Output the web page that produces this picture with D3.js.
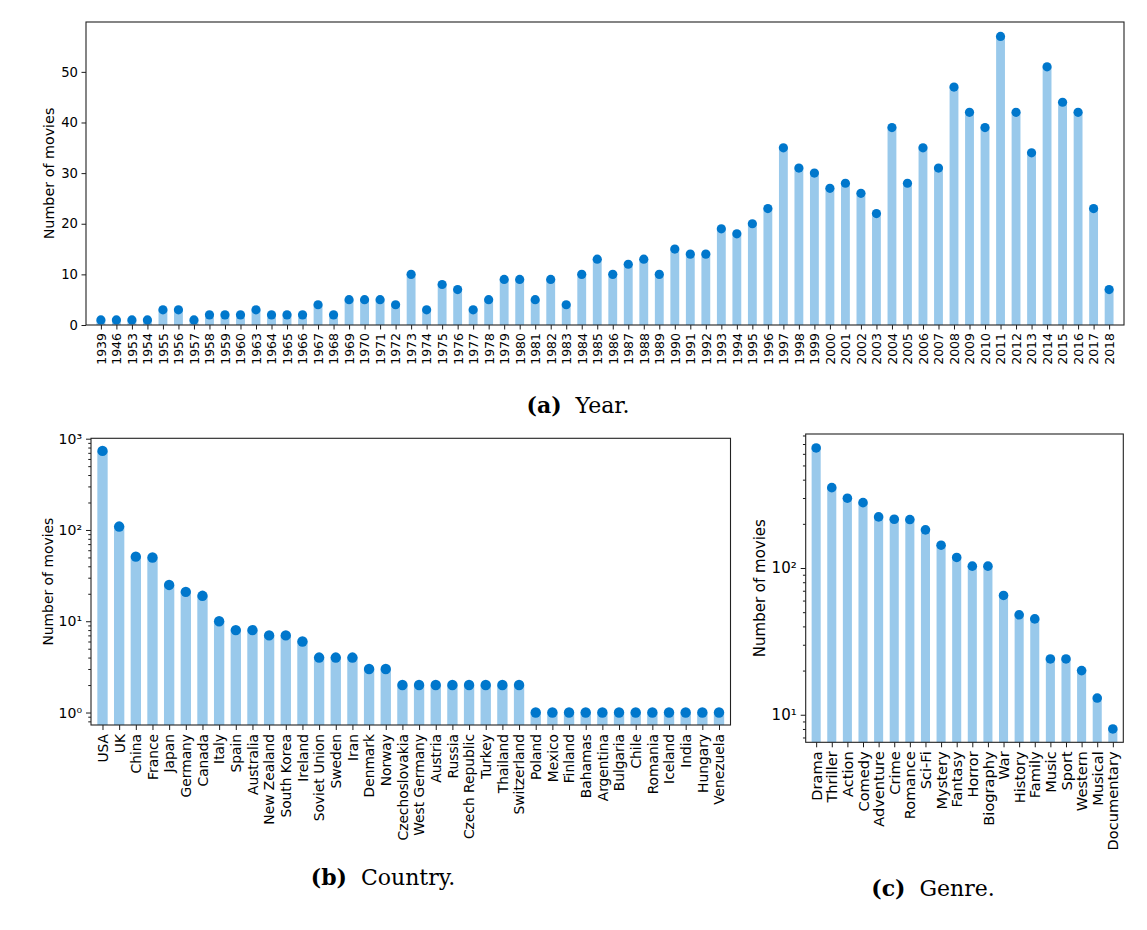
<!DOCTYPE html>
<html>
<head>
<meta charset="utf-8">
<title>Number of movies by year, country and genre</title>
<script src="https://d3js.org/d3.v7.min.js"></script>
<style>
  body { margin: 0; background: #fff; }
</style>
</head>
<body>
<div id="chart"></div>
<script>
// data
const years = ["1939","1946","1953","1954","1955","1956","1957","1958","1959","1960",
  "1963","1964","1965","1966","1967","1968","1969","1970","1971","1972","1973","1974",
  "1975","1976","1977","1978","1979","1980","1981","1982","1983","1984","1985","1986",
  "1987","1988","1989","1990","1991","1992","1993","1994","1995","1996","1997","1998",
  "1999","2000","2001","2002","2003","2004","2005","2006","2007","2008","2009","2010",
  "2011","2012","2013","2014","2015","2016","2017","2018"];
const yearCounts = [1,1,1,1,3,3,1,2,2,2,
  3,2,2,2,4,2,5,5,5,4,10,3,
  8,7,3,5,9,9,5,9,4,10,13,10,
  12,13,10,15,14,14,19,18,20,23,35,31,
  30,27,28,26,22,39,28,35,31,47,42,39,
  57,42,34,51,44,42,23,7];

const countries = ["USA","UK","China","France","Japan","Germany","Canada","Italy","Spain",
  "Australia","New Zealand","South Korea","Ireland","Soviet Union","Sweden","Iran",
  "Denmark","Norway","Czechoslovakia","West Germany","Austria","Russia","Czech Republic",
  "Turkey","Thailand","Switzerland","Poland","Mexico","Finland","Bahamas","Argentina",
  "Bulgaria","Chile","Romania","Iceland","India","Hungary","Venezuela"];
const countryCounts = [735,109,51,50,25,21,19,10,8,
  8,7,7,6,4,4,4,
  3,3,2,2,2,2,2,
  2,2,2,1,1,1,1,1,
  1,1,1,1,1,1,1];

const genres = ["Drama","Thriller","Action","Comedy","Adventure","Crime","Romance","Sci-Fi",
  "Mystery","Fantasy","Horror","Biography","War","History","Family","Music","Sport",
  "Western","Musical","Documentary"];
const genreCounts = [658,353,299,279,223,215,214,182,
  143,118,103,103,65,48,45,24,24,
  20,13,8];

const yearTicks = [0, 10, 20, 30, 40, 50];
const countryTicks = [1, 10, 100, 1000];
const genreTicks = [10, 100];

const barColor = "#99c9eb";
const dotColor = "#0077cc";
const font = "DejaVu Sans, sans-serif";
const sup = {"0": "\u2070", "1": "\u00b9", "2": "\u00b2", "3": "\u00b3"};
const powFormat = d => "10" + sup[String(Math.round(Math.log10(d)))];

let svg = d3.select("#chart")
  .append("svg")
    .attr("width", 1147)
    .attr("height", 930);

// minor ticks of a log axis inside its domain
function logMinor(y) {
  let [a, b] = y.domain();
  let out = [];
  for (let e = Math.floor(Math.log10(a)); e <= Math.ceil(Math.log10(b)); e++) {
    for (let k = 2; k <= 9; k++) {
      let v = k * Math.pow(10, e);
      if (v >= a && v <= b) out.push(v);
    }
  }
  return out;
}

function drawPanel(p) {
  let g = svg.append("g");

  let x = d3.scalePoint()
    .domain(p.cats)
    .range([p.left, p.right])
    .padding(p.pad);
  let bw = x.step() * p.barFrac;
  let y = p.y;

  // bars
  g.selectAll("rect.bar")
    .data(p.vals)
    .join("rect")
      .attr("class", "bar")
      .attr("x", (d, i) => x(p.cats[i]) - bw / 2)
      .attr("y", d => y(d))
      .attr("width", bw)
      .attr("height", d => p.bottom - y(d))
      .attr("fill", barColor);

  // dots on top
  g.selectAll("circle")
    .data(p.vals)
    .join("circle")
      .attr("cx", (d, i) => x(p.cats[i]))
      .attr("cy", d => y(d))
      .attr("r", p.r)
      .attr("fill", dotColor);

  // x axis, labels rotated
  let xa = g.append("g")
    .attr("transform", "translate(0," + p.bottom + ")")
    .call(d3.axisBottom(x).tickSize(p.tick).tickSizeOuter(0));
  xa.select(".domain").remove();
  xa.selectAll("text")
    .attr("transform", "rotate(-90)")
    .attr("x", -(p.tick + p.tickPad))
    .attr("y", 0)
    .attr("dy", "0.35em")
    .style("text-anchor", "end")
    .attr("font-family", font)
    .attr("font-size", p.xFont + "px")
    .attr("fill", "#000");

  // y axis
  let ya = g.append("g")
    .attr("transform", "translate(" + p.left + ",0)")
    .call(d3.axisLeft(y).tickValues(p.yTicks).tickFormat(p.fmt)
      .tickSize(p.tick).tickPadding(p.tickPad));
  ya.select(".domain").remove();
  ya.selectAll("text")
    .attr("font-family", font)
    .attr("font-size", p.yFont + "px")
    .attr("fill", "#000");

  if (p.log) {
    let ma = g.append("g")
      .attr("transform", "translate(" + p.left + ",0)")
      .call(d3.axisLeft(y).tickValues(logMinor(y)).tickFormat("").tickSize(p.tick * 0.55));
    ma.select(".domain").remove();
  }
  g.selectAll(".tick line").attr("stroke", "#000").attr("stroke-width", 0.9);

  // frame
  g.append("rect")
    .attr("x", p.left)
    .attr("y", p.top)
    .attr("width", p.right - p.left)
    .attr("height", p.bottom - p.top)
    .attr("fill", "none")
    .attr("stroke", "#222")
    .attr("stroke-width", 1.1);

  // y title
  g.append("text")
    .attr("transform", "translate(" + p.labelX + "," + ((p.top + p.bottom) / 2) + ") rotate(-90)")
    .attr("dy", "0.35em")
    .style("text-anchor", "middle")
    .attr("font-family", font)
    .attr("font-size", p.labelFont + "px")
    .text("Number of movies");
}

function caption(cx, by, tag, word) {
  let t = svg.append("text")
    .attr("x", cx)
    .attr("y", by)
    .style("text-anchor", "middle")
    .attr("font-family", "DejaVu Serif, serif")
    .attr("font-size", "22px");
  t.append("tspan").attr("font-weight", "bold").text("(" + tag + ")");
  t.append("tspan").attr("dx", 7).text(" " + word);
}

// (a) year
drawPanel({
  cats: years, vals: yearCounts,
  left: 86, right: 1124, top: 22, bottom: 325,
  pad: 0.96, barFrac: 0.57, r: 4.6,
  y: d3.scaleLinear().domain([0, 59.85]).range([325, 22]),
  yTicks: yearTicks, fmt: d3.format("d"), log: false,
  tick: 4.5, tickPad: 3.5, xFont: 12.5, yFont: 13.2,
  labelX: 49, labelFont: 14.3
});

// (b) country
drawPanel({
  cats: countries, vals: countryCounts,
  left: 91, right: 730.5, top: 438.3, bottom: 725,
  pad: 0.69, barFrac: 0.62, r: 5.2,
  y: d3.scaleLog().domain([0.73, 1010]).range([725, 438.3]),
  yTicks: countryTicks, fmt: powFormat, log: true,
  tick: 5, tickPad: 4, xFont: 13.8, yFont: 14,
  labelX: 48.5, labelFont: 13.9
});

// (c) genre
drawPanel({
  cats: genres, vals: genreCounts,
  left: 805.7, right: 1123.3, top: 434, bottom: 742.3,
  pad: 0.67, barFrac: 0.58, r: 4.8,
  y: d3.scaleLog().domain([6.49, 819]).range([742.3, 434]),
  yTicks: genreTicks, fmt: powFormat, log: true,
  tick: 5, tickPad: 4, xFont: 14.6, yFont: 15,
  labelX: 760, labelFont: 15
});

caption(578, 413, "a", "Year.");
caption(383, 885, "b", "Country.");
caption(933, 896, "c", "Genre.");
</script>
</body>
</html>
